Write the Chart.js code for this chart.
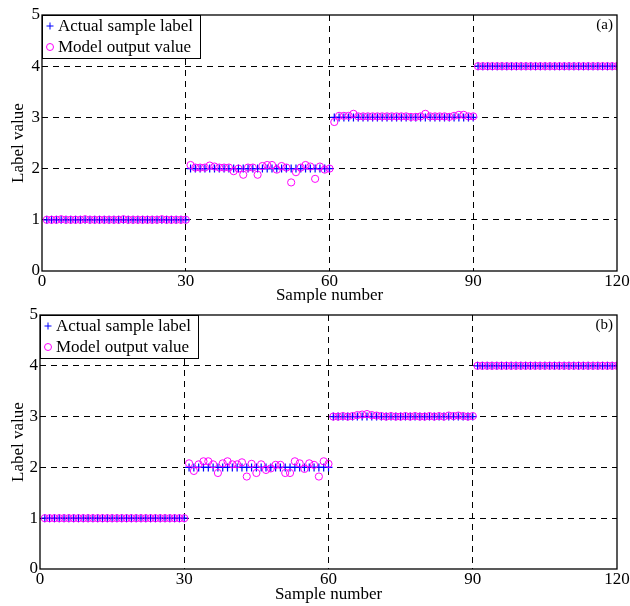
<!DOCTYPE html>
<html lang="en">
<head>
    <meta charset="UTF-8">
    <title>Actual label vs model output</title>
    <script src="https://cdn.jsdelivr.net/npm/chart.js"></script>
    <style>
        body { margin: 0; background: #fff; }
        .panel { position: relative; width: 630px; height: 303px; }
        canvas { display: block; }
    </style>
</head>
<body>
    <div class="panel"><canvas id="chart-a" width="630" height="303"></canvas></div>
    <div class="panel"><canvas id="chart-b" width="630" height="303"></canvas></div>

    <script>
        // axis ticks
        const xTicks = [0, 30, 60, 90, 120];
        const yTicks = [0, 1, 2, 3, 4, 5];

        // actual class labels, samples 1..120 (same for both panels)
        const actualLabels = [
            1,1,1,1,1,1,1,1,1,1,1,1,1,1,1,1,1,1,1,1,1,1,1,1,1,1,1,1,1,1,
            2,2,2,2,2,2,2,2,2,2,2,2,2,2,2,2,2,2,2,2,2,2,2,2,2,2,2,2,2,2,
            3,3,3,3,3,3,3,3,3,3,3,3,3,3,3,3,3,3,3,3,3,3,3,3,3,3,3,3,3,3,
            4,4,4,4,4,4,4,4,4,4,4,4,4,4,4,4,4,4,4,4,4,4,4,4,4,4,4,4,4,4
        ];

        // model outputs, panel (a)
        const outputA = [
            1.00,1.00,1.00,1.01,1.00,1.00,1.00,1.00,1.01,1.00,1.00,1.00,1.00,1.00,1.00,
            1.00,1.01,1.00,1.00,1.00,1.00,1.00,1.00,1.00,1.01,1.00,1.00,1.00,1.00,1.00,
            2.07,2.02,2.02,2.02,2.06,2.04,2.02,2.02,2.02,1.95,2.00,1.88,2.02,2.02,1.88,
            2.05,2.07,2.07,1.98,2.05,2.02,1.73,1.93,2.02,2.07,2.04,1.80,2.04,1.98,2.00,
            2.91,3.03,3.03,3.03,3.07,3.02,3.02,3.02,3.02,3.02,3.02,3.02,3.02,3.02,3.02,
            3.02,3.01,3.01,3.02,3.07,3.02,3.02,3.02,3.02,3.01,3.03,3.05,3.05,3.02,3.02,
            4.00,4.00,4.00,4.00,4.00,4.00,4.00,4.00,4.00,4.00,4.00,4.00,4.00,4.00,4.00,
            4.00,4.00,4.00,4.00,4.00,4.00,4.00,4.00,4.00,4.00,4.00,4.00,4.00,4.00,4.00
        ];

        // model outputs, panel (b)
        const outputB = [
            1.00,1.00,1.00,1.00,1.00,1.00,1.00,1.00,1.00,1.00,1.00,1.00,1.00,1.00,1.00,
            1.00,1.00,1.00,1.00,1.00,1.00,1.00,1.00,1.00,1.00,1.00,1.00,1.00,1.00,1.00,
            2.08,1.93,2.06,2.12,2.12,2.06,1.89,2.08,2.12,2.06,2.06,2.10,1.82,2.07,1.89,
            2.06,1.95,1.98,2.05,2.05,1.89,1.89,2.12,2.08,1.97,2.08,2.05,1.82,2.12,2.07,
            3.00,3.00,3.01,3.00,3.01,3.03,3.04,3.05,3.03,3.02,3.01,3.00,3.01,3.00,3.00,
            3.01,3.00,3.01,3.00,3.00,3.01,3.00,3.01,3.00,3.02,3.01,3.02,3.01,3.00,3.01,
            4.00,4.00,4.00,4.00,4.00,4.00,4.00,4.00,4.00,4.00,4.00,4.00,4.00,4.00,4.00,
            4.00,4.00,4.00,4.00,4.00,4.00,4.00,4.00,4.00,4.00,4.00,4.00,4.00,4.00,4.00
        ];

        const seriesNames = ['Actual sample label', 'Model output value'];
        const FONT = '"Liberation Serif", "Times New Roman", serif';

        function toPoints(values) {
            return values.map((v, i) => ({ x: i + 1, y: v }));
        }

        // box around the plot, legend box and panel tag
        const framePlugin = {
            id: 'frame',
            afterDatasetsDraw(chart, args, opts) {
                const { ctx, chartArea: a } = chart;
                ctx.save();
                ctx.strokeStyle = '#000';
                ctx.lineWidth = 1.3;
                ctx.strokeRect(a.left, a.top, a.right - a.left, a.bottom - a.top);

                // legend
                const bw = 158, bh = 43;
                ctx.fillStyle = '#fff';
                ctx.fillRect(a.left, a.top, bw, bh);
                ctx.lineWidth = 1;
                ctx.strokeRect(a.left + 0.5, a.top + 0.5, bw, bh);

                const mx = a.left + 8;
                const y1 = a.top + 11, y2 = a.top + 32;
                ctx.strokeStyle = '#0000ff';
                ctx.beginPath();
                ctx.moveTo(mx - 3.5, y1); ctx.lineTo(mx + 3.5, y1);
                ctx.moveTo(mx, y1 - 3.5); ctx.lineTo(mx, y1 + 3.5);
                ctx.stroke();
                ctx.strokeStyle = '#ff00ff';
                ctx.beginPath();
                ctx.arc(mx, y2, 3.5, 0, Math.PI * 2);
                ctx.stroke();

                ctx.fillStyle = '#000';
                ctx.font = '17px ' + FONT;
                ctx.textBaseline = 'middle';
                ctx.textAlign = 'left';
                ctx.fillText(seriesNames[0], a.left + 16, y1 + 1);
                ctx.fillText(seriesNames[1], a.left + 16, y2 + 1);

                ctx.textAlign = 'right';
                ctx.font = '15px ' + FONT;
                ctx.fillText(opts.tag, a.right - 4, a.top + 10);
                ctx.restore();
            }
        };

        function interior(ticks) {
            return ctx => {
                const v = ctx.tick ? ctx.tick.value : null;
                return (v === ticks[0] || v === ticks[ticks.length - 1]) ? 'rgba(0,0,0,0)' : '#000';
            };
        }

        function makeChart(id, output, tag, box) {
            new Chart(document.getElementById(id), {
                type: 'scatter',
                data: {
                    datasets: [
                        {
                            label: seriesNames[0],
                            data: toPoints(actualLabels),
                            pointStyle: 'cross',
                            pointRadius: 4,
                            borderColor: '#0000ff',
                            backgroundColor: '#0000ff',
                            borderWidth: 1.2,
                            order: 2
                        },
                        {
                            label: seriesNames[1],
                            data: toPoints(output),
                            pointStyle: 'circle',
                            pointRadius: 3.6,
                            borderColor: '#ff00ff',
                            backgroundColor: 'rgba(0,0,0,0)',
                            borderWidth: 1,
                            order: 1
                        }
                    ]
                },
                options: {
                    responsive: false,
                    animation: false,
                    devicePixelRatio: 1,
                    layout: { padding: { top: box.top, right: 13, left: 0, bottom: 0 } },
                    plugins: {
                        legend: { display: false },
                        tooltip: { enabled: false },
                        frame: { tag: tag }
                    },
                    scales: {
                        x: {
                            type: 'linear',
                            min: xTicks[0],
                            max: xTicks[xTicks.length - 1],
                            afterBuildTicks: s => { s.ticks = xTicks.map(v => ({ value: v })); },
                            afterFit: s => { s.height = box.xh; s.paddingLeft = 0; s.paddingRight = 0; },
                            ticks: { color: '#000', padding: 0, maxRotation: 0, font: { family: FONT, size: 17 } },
                            grid: { color: interior(xTicks), lineWidth: 1, drawTicks: false, borderDash: [6, 5] },
                            border: { display: false, dash: [6, 5] },
                            title: {
                                display: true, text: 'Sample number', color: '#000',
                                padding: { top: 0, bottom: box.tb },
                                font: { family: FONT, size: 17 }
                            }
                        },
                        y: {
                            min: yTicks[0],
                            max: yTicks[yTicks.length - 1],
                            afterBuildTicks: s => { s.ticks = yTicks.map(v => ({ value: v })); },
                            afterFit: s => { s.width = box.left; s.paddingTop = 0; s.paddingBottom = 0; },
                            ticks: { color: '#000', padding: 2, font: { family: FONT, size: 17 } },
                            grid: { color: interior(yTicks), lineWidth: 1, drawTicks: false, borderDash: [6, 5] },
                            border: { display: false, dash: [6, 5] },
                            title: {
                                display: true, text: 'Label value', color: '#000',
                                padding: { top: 8, bottom: 0 },
                                font: { family: FONT, size: 17 }
                            }
                        }
                    }
                },
                plugins: [framePlugin]
            });
        }

        makeChart('chart-a', outputA, '(a)', { top: 15, left: 42, xh: 32, tb: -3 });
        makeChart('chart-b', outputB, '(b)', { top: 12, left: 40, xh: 37, tb: 1 });
    </script>
</body>
</html>
